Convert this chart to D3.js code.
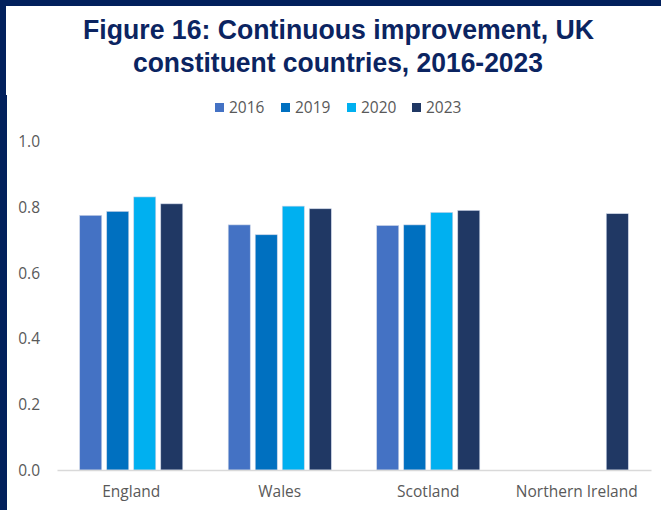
<!DOCTYPE html>
<html>
<head>
<meta charset="utf-8">
<script src="https://cdn.jsdelivr.net/npm/d3@7"></script>
<style>
html,body{margin:0;padding:0;background:#fff;}
svg{display:block;}
</style>
</head>
<body>
<svg id="chart" width="661" height="510"></svg>
<script>
const titleLines = ["Figure 16: Continuous improvement, UK", "constituent countries, 2016-2023"];
const categories = ["England", "Wales", "Scotland", "Northern Ireland"];
const seriesNames = ["2016", "2019", "2020", "2023"];
const values2016 = [0.774, 0.745, 0.743, null];
const values2019 = [0.786, 0.715, 0.745, null];
const values2020 = [0.830, 0.802, 0.783, null];
const values2023 = [0.809, 0.794, 0.789, 0.779];
const seriesColors = ["#4472C4", "#0070C0", "#00B0F0", "#203864"];
const yTicks = [0, 0.2, 0.4, 0.6, 0.8, 1.0];

const seriesValues = [values2016, values2019, values2020, values2023];

const svg = d3.select("#chart");
const navy = "#02205c";

// frame
svg.append("rect").attr("x",0).attr("y",0).attr("width",661).attr("height",6).attr("fill",navy);
svg.append("rect").attr("x",0).attr("y",0).attr("width",6).attr("height",95).attr("fill",navy);
svg.append("rect").attr("x",0).attr("y",95).attr("width",7).attr("height",415).attr("fill",navy);

// title
const titleSpecs = [{y:39, len:511, cx:338.5},{y:72, len:410, cx:338}];
titleLines.forEach((t,i)=>{
  const s = titleSpecs[i];
  svg.append("text")
    .attr("x", s.cx - s.len/2).attr("y", s.y)
    .attr("textLength", s.len).attr("lengthAdjust","spacingAndGlyphs")
    .attr("font-family","'Liberation Sans', Arial, sans-serif")
    .attr("font-weight","bold").attr("font-size",27.5)
    .attr("fill","#0b2461").text(t);
});

// scales
const x0 = d3.scaleBand().domain(categories).range([57, 651]).paddingInner(0.306).paddingOuter(0.153);
const x1 = d3.scaleBand().domain(seriesNames).range([0, x0.bandwidth()]).paddingInner(0.185).paddingOuter(0);
const y = d3.scaleLinear().domain([0, 1]).range([470, 141]);

// y axis labels
const yAxis = d3.axisLeft(y).tickValues(yTicks).tickFormat(d3.format(".1f")).tickSize(0).tickPadding(0);
const yg = svg.append("g").attr("transform","translate(40,0)").call(yAxis);
yg.select(".domain").remove();
yg.selectAll("text").attr("font-family","'Open Sans', sans-serif").attr("font-size",15.5).attr("fill","#595959").attr("dy","0.35em");

// bars
const groups = svg.append("g").selectAll("g").data(categories).join("g")
  .attr("transform", d => `translate(${x0(d)},0)`);
groups.selectAll("rect")
  .data((c, ci) => seriesNames.map((s, si) => ({s, si, v: seriesValues[si][ci]})).filter(d => d.v != null))
  .join("rect")
  .attr("x", d => x1(d.s))
  .attr("width", x1.bandwidth())
  .attr("y", d => y(d.v))
  .attr("height", d => y(0) - y(d.v))
  .attr("fill", d => seriesColors[d.si])
  .attr("stroke", "#c9d3e6").attr("stroke-width", 0.6);

// x axis
const xAxis = d3.axisBottom(x0).tickSize(0).tickPadding(16);
const xg = svg.append("g").attr("transform",`translate(0,${y(0)})`).call(xAxis);
xg.select(".domain").attr("stroke","#d9d9d9").attr("stroke-width",1.5);
xg.selectAll("text").attr("font-family","'Open Sans', sans-serif").attr("font-size",15.5).attr("fill","#595959");

// legend
const legendX = [215, 281, 347, 412];
const lg = svg.append("g");
seriesNames.forEach((s,i)=>{
  lg.append("rect").attr("x",legendX[i]).attr("y",103).attr("width",9).attr("height",9).attr("fill",seriesColors[i]);
  lg.append("text").attr("x",legendX[i]+14).attr("y",113)
    .attr("font-family","'Open Sans', sans-serif").attr("font-size",15.5).attr("fill","#595959").text(s);
});
</script>
</body>
</html>
